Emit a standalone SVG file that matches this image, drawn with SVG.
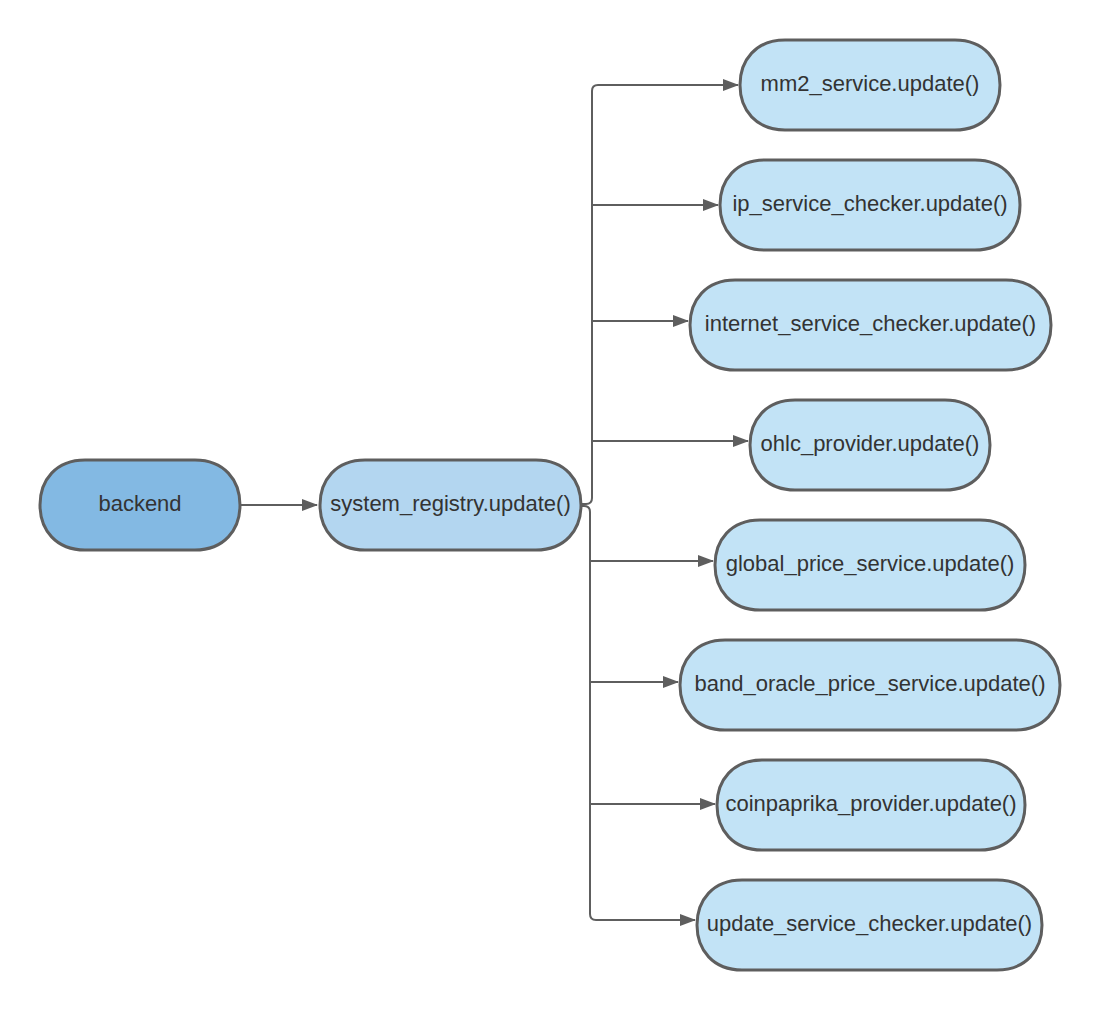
<svg xmlns="http://www.w3.org/2000/svg" width="1100" height="1010" viewBox="0 0 1100 1010">
<style>
.n path{stroke:#5e5e5e;stroke-width:3}
.leaf path{fill:#c2e3f6}
.n text{font-family:"Liberation Sans",Arial,sans-serif;font-size:22px;fill:#333333;text-anchor:middle;dominant-baseline:central}
.c path{fill:none;stroke:#5e5e5e;stroke-width:2}
</style>
<defs>
<marker id="ah" markerWidth="16" markerHeight="12" refX="15" refY="6" orient="auto" markerUnits="userSpaceOnUse">
<path d="M0,0 L16,6 L0,12 Z" fill="#5e5e5e"/>
</marker>
</defs>
<rect width="1100" height="1010" fill="#ffffff"/>
<g class="c" id="connectors">
<path d="M241,505 L317,505" marker-end="url(#ah)"/>
<path d="M582,504 L586,504 Q592,504 592,498 L592,91 Q592,85 598,85 L738,85" marker-end="url(#ah)"/>
<path d="M592,205 L718,205" marker-end="url(#ah)"/>
<path d="M592,321 L688,321" marker-end="url(#ah)"/>
<path d="M592,441 L748,441" marker-end="url(#ah)"/>
<path d="M582,506 L584,506 Q590,506 590,512 L590,914 Q590,920 596,920 L695,920" marker-end="url(#ah)"/>
<path d="M590,561 L713,561" marker-end="url(#ah)"/>
<path d="M590,682 L678,682" marker-end="url(#ah)"/>
<path d="M590,804 L715,804" marker-end="url(#ah)"/>
</g>
<g class="n" id="backend"><path fill="#83b9e3" d="M85,460 C56,460 40,480 40,505 C40,530 56,550 85,550 L195,550 C224,550 240,530 240,505 C240,480 224,460 195,460 Z"/><text x="140" y="503">backend</text></g>
<g class="n" id="system_registry"><path fill="#b3d6f0" d="M365,460 C336,460 320,480 320,505 C320,530 336,550 365,550 L536,550 C565,550 581,530 581,505 C581,480 565,460 536,460 Z"/><text x="450.5" y="503">system_registry.update()</text></g>
<g class="n leaf" id="mm2_service"><path d="M785,40 C756,40 740,60 740,85 C740,110 756,130 785,130 L955,130 C984,130 1000,110 1000,85 C1000,60 984,40 955,40 Z"/><text x="870" y="83">mm2_service.update()</text></g>
<g class="n leaf" id="ip_service_checker"><path d="M765,160 C736,160 720,180 720,205 C720,230 736,250 765,250 L975,250 C1004,250 1020,230 1020,205 C1020,180 1004,160 975,160 Z"/><text x="870" y="203">ip_service_checker.update()</text></g>
<g class="n leaf" id="internet_service_checker"><path d="M735,280 C706,280 690,300 690,325 C690,350 706,370 735,370 L1006,370 C1035,370 1051,350 1051,325 C1051,300 1035,280 1006,280 Z"/><text x="870.5" y="323">internet_service_checker.update()</text></g>
<g class="n leaf" id="ohlc_provider"><path d="M795,400 C766,400 750,420 750,445 C750,470 766,490 795,490 L945,490 C974,490 990,470 990,445 C990,420 974,400 945,400 Z"/><text x="870" y="443">ohlc_provider.update()</text></g>
<g class="n leaf" id="global_price_service"><path d="M760,520 C731,520 715,540 715,565 C715,590 731,610 760,610 L980,610 C1009,610 1025,590 1025,565 C1025,540 1009,520 980,520 Z"/><text x="870" y="563">global_price_service.update()</text></g>
<g class="n leaf" id="band_oracle_price_service"><path d="M725,640 C696,640 680,660 680,685 C680,710 696,730 725,730 L1015,730 C1044,730 1060,710 1060,685 C1060,660 1044,640 1015,640 Z"/><text x="870" y="683">band_oracle_price_service.update()</text></g>
<g class="n leaf" id="coinpaprika_provider"><path d="M762,760 C733,760 717,780 717,805 C717,830 733,850 762,850 L980,850 C1009,850 1025,830 1025,805 C1025,780 1009,760 980,760 Z"/><text x="871" y="803">coinpaprika_provider.update()</text></g>
<g class="n leaf" id="update_service_checker"><path d="M742,880 C713,880 697,900 697,925 C697,950 713,970 742,970 L997,970 C1026,970 1042,950 1042,925 C1042,900 1026,880 997,880 Z"/><text x="869.5" y="923">update_service_checker.update()</text></g>
</svg>
